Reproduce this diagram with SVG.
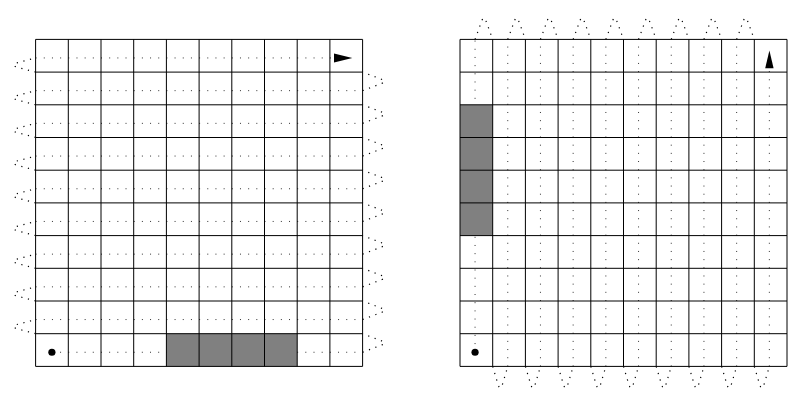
<svg xmlns="http://www.w3.org/2000/svg" width="794" height="400" viewBox="0 0 794 400">
  <style>
    .bg { fill: #ffffff; }
    .line { fill: none; stroke: #333; stroke-width: 1; stroke-dasharray: 1 7.175; }
    .turn { fill: none; stroke: #000; stroke-width: 1.2; stroke-dasharray: 1.2 5.6; }
    .cell { fill: #808080; stroke: none; }
    .grid { fill: none; stroke: #000; stroke-width: 1; }
    .mark { fill: #000; stroke: none; }
  </style>
  <rect class="bg" x="0" y="0" width="794" height="400"/>

  <g id="left-panel">
    <g id="left-path">
      <path class="line" d="M51.9 352.25H362.6 M35.6 319.55H362.6 M35.6 286.85H362.6 M35.6 254.15H362.6 M35.6 221.45H362.6 M35.6 188.75H362.6 M35.6 156.05H362.6 M35.6 123.35H362.6 M35.6 90.65H362.6 M35.6 57.95H334"/>
      <path class="turn" d="M362.6 352.25L382 344.9Q387 342.975 382 341.05L362.6 333.7 M362.6 319.55L382 312.2Q387 310.275 382 308.35L362.6 301 M362.6 286.85L382 279.5Q387 277.575 382 275.65L362.6 268.3 M362.6 254.15L382 246.8Q387 244.875 382 242.95L362.6 235.6 M362.6 221.45L382 214.1Q387 212.175 382 210.25L362.6 202.9 M362.6 188.75L382 181.4Q387 179.475 382 177.55L362.6 170.2 M362.6 156.05L382 148.7Q387 146.775 382 144.85L362.6 137.5 M362.6 123.35L382 116Q387 114.075 382 112.15L362.6 104.8 M362.6 90.65L382 83.3Q387 81.375 382 79.45L362.6 72.1"/>
      <path class="turn" d="M35.6 333.7L16.2 328.55Q11.2 326.625 16.2 324.7L35.6 319.55 M35.6 301L16.2 295.85Q11.2 293.925 16.2 292L35.6 286.85 M35.6 268.3L16.2 263.15Q11.2 261.225 16.2 259.3L35.6 254.15 M35.6 235.6L16.2 230.45Q11.2 228.525 16.2 226.6L35.6 221.45 M35.6 202.9L16.2 197.75Q11.2 195.825 16.2 193.9L35.6 188.75 M35.6 170.2L16.2 165.05Q11.2 163.125 16.2 161.2L35.6 156.05 M35.6 137.5L16.2 132.35Q11.2 130.425 16.2 128.5L35.6 123.35 M35.6 104.8L16.2 99.65Q11.2 97.725 16.2 95.8L35.6 90.65 M35.6 72.1L16.2 66.95Q11.2 65.025 16.2 63.1L35.6 57.95"/>
    </g>
    <g id="left-obstacle">
      <rect class="cell" x="166.4" y="333.7" width="130.8" height="32.7"/>
    </g>
    <g id="left-grid">
      <path class="grid" d="M35.6 39.4H362.6V366.4H35.6Z M68.3 39.4V366.4 M101 39.4V366.4 M133.7 39.4V366.4 M166.4 39.4V366.4 M199.1 39.4V366.4 M231.8 39.4V366.4 M264.5 39.4V366.4 M297.2 39.4V366.4 M329.9 39.4V366.4 M35.6 72.1H362.6 M35.6 104.8H362.6 M35.6 137.5H362.6 M35.6 170.2H362.6 M35.6 202.9H362.6 M35.6 235.6H362.6 M35.6 268.3H362.6 M35.6 301H362.6 M35.6 333.7H362.6"/>
    </g>
    <g id="left-start"><circle class="mark" cx="51.9" cy="352.25" r="3.6"/></g>
    <g id="left-end"><polygon class="mark" points="334,53.4 352.3,57.95 334,62.5"/></g>
  </g>

  <g id="right-panel">
    <g id="right-path">
      <path class="line" d="M475.05 352.25V39.4 M507.75 366.4V39.4 M540.45 366.4V39.4 M573.15 366.4V39.4 M605.85 366.4V39.4 M638.55 366.4V39.4 M671.25 366.4V39.4 M703.95 366.4V39.4 M736.65 366.4V39.4 M769.35 366.4V68.3"/>
      <path class="turn" d="M475.05 39.4L481.95 20.4Q483.875 15.4 485.8 20.4L492.7 39.4 M507.75 39.4L514.65 20.4Q516.575 15.4 518.5 20.4L525.4 39.4 M540.45 39.4L547.35 20.4Q549.275 15.4 551.2 20.4L558.1 39.4 M573.15 39.4L580.05 20.4Q581.975 15.4 583.9 20.4L590.8 39.4 M605.85 39.4L612.75 20.4Q614.675 15.4 616.6 20.4L623.5 39.4 M638.55 39.4L645.45 20.4Q647.375 15.4 649.3 20.4L656.2 39.4 M671.25 39.4L678.15 20.4Q680.075 15.4 682 20.4L688.9 39.4 M703.95 39.4L710.85 20.4Q712.775 15.4 714.7 20.4L721.6 39.4 M736.65 39.4L743.55 20.4Q745.475 15.4 747.4 20.4L754.3 39.4"/>
      <path class="turn" d="M492.7 366.4L498.3 385.4Q500.225 390.4 502.15 385.4L507.75 366.4 M525.4 366.4L531 385.4Q532.925 390.4 534.85 385.4L540.45 366.4 M558.1 366.4L563.7 385.4Q565.625 390.4 567.55 385.4L573.15 366.4 M590.8 366.4L596.4 385.4Q598.325 390.4 600.25 385.4L605.85 366.4 M623.5 366.4L629.1 385.4Q631.025 390.4 632.95 385.4L638.55 366.4 M656.2 366.4L661.8 385.4Q663.725 390.4 665.65 385.4L671.25 366.4 M688.9 366.4L694.5 385.4Q696.425 390.4 698.35 385.4L703.95 366.4 M721.6 366.4L727.2 385.4Q729.125 390.4 731.05 385.4L736.65 366.4 M754.3 366.4L759.9 385.4Q761.825 390.4 763.75 385.4L769.35 366.4"/>
    </g>
    <g id="right-obstacle">
      <rect class="cell" x="460" y="104.8" width="32.7" height="130.8"/>
    </g>
    <g id="right-grid">
      <path class="grid" d="M460 39.4H787V366.4H460Z M492.7 39.4V366.4 M525.4 39.4V366.4 M558.1 39.4V366.4 M590.8 39.4V366.4 M623.5 39.4V366.4 M656.2 39.4V366.4 M688.9 39.4V366.4 M721.6 39.4V366.4 M754.3 39.4V366.4 M460 72.1H787 M460 104.8H787 M460 137.5H787 M460 170.2H787 M460 202.9H787 M460 235.6H787 M460 268.3H787 M460 301H787 M460 333.7H787"/>
    </g>
    <g id="right-start"><circle class="mark" cx="475.05" cy="352.25" r="3.6"/></g>
    <g id="right-end"><polygon class="mark" points="765.2,68.3 769.4,50.6 773.6,68.3"/></g>
  </g>
</svg>
